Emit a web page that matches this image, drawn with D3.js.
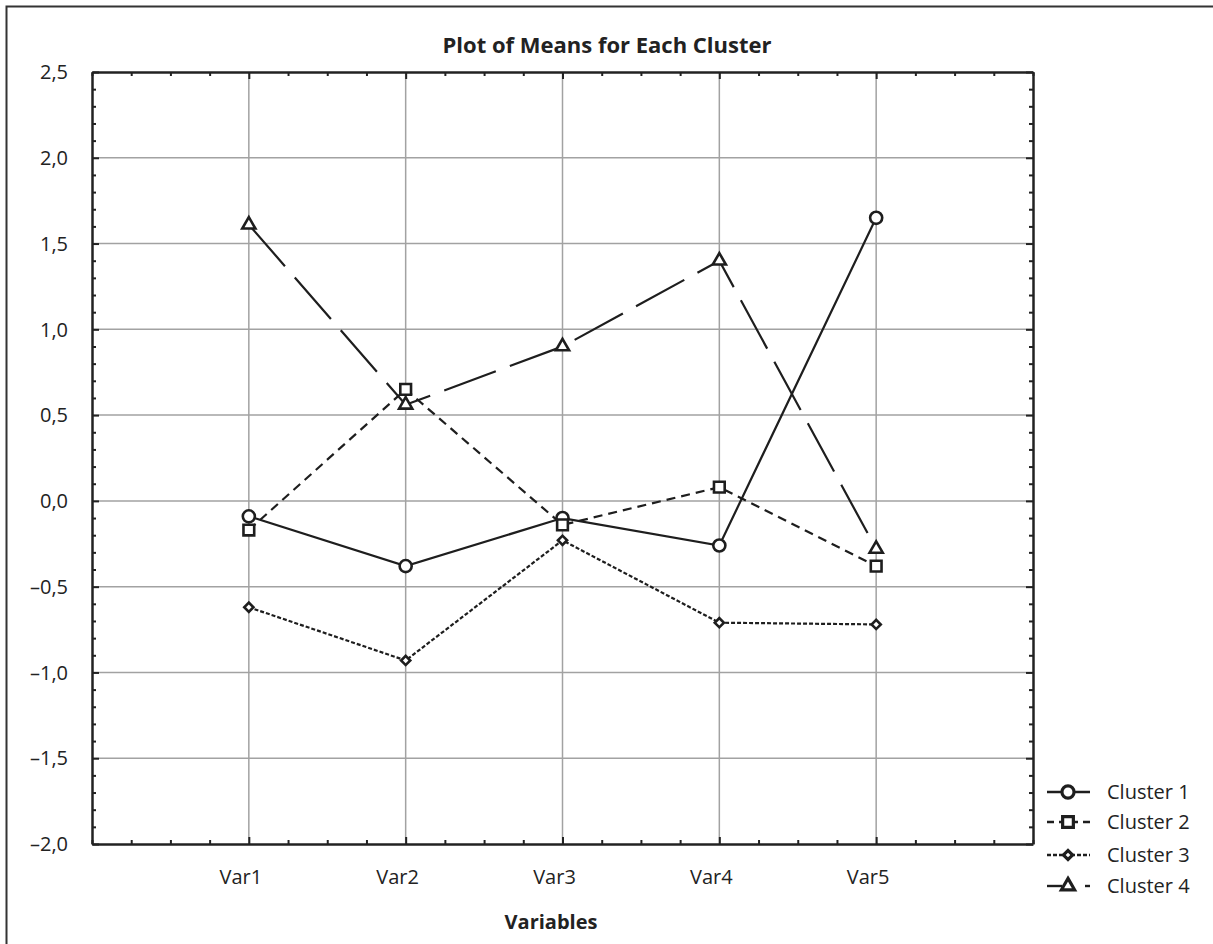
<!DOCTYPE html>
<html><head><meta charset="utf-8">
<script src="https://cdn.jsdelivr.net/npm/d3@7/dist/d3.min.js"></script>
<style>body{margin:0;background:#fff}svg{display:block}text{font-family:"Open Sans",sans-serif;fill:#222}</style>
</head><body><svg id="c" width="1213" height="944"></svg>
<script>
const categories = ["Var1","Var2","Var3","Var4","Var5"];
const cluster1 = [-0.09, -0.38, -0.10, -0.26, 1.65];
const cluster2 = [-0.17, 0.65, -0.14, 0.08, -0.38];
const cluster3 = [-0.62, -0.93, -0.23, -0.71, -0.72];
const cluster4 = [1.61, 0.56, 0.90, 1.40, -0.28];
const seriesNames = ["Cluster 1","Cluster 2","Cluster 3","Cluster 4"];
const yTickValues = [-2.0,-1.5,-1.0,-0.5,0.0,0.5,1.0,1.5,2.0,2.5];
const yTickLabels = ["\u20132,0","\u20131,5","\u20131,0","\u20130,5","0,0","0,5","1,0","1,5","2,0","2,5"];
const titleText = "Plot of Means for Each Cluster";
const xTitle = "Variables";

const series = [
  {name: seriesNames[0], values: cluster1, symbol: d3.symbolCircle, size: 115, rot: 0, dash: null},
  {name: seriesNames[1], values: cluster2, symbol: d3.symbolSquare, size: 115, rot: 0, dash: "9,6"},
  {name: seriesNames[2], values: cluster3, symbol: d3.symbolSquare, size: 42, rot: 45, dash: "4,2"},
  {name: seriesNames[3], values: cluster4, symbol: d3.symbolTriangle, size: 75, rot: 0, dash: "55,15"}
];

const svg = d3.select("#c");
const L = 92, R = 1033, T = 72, B = 844;
const x = d3.scaleLinear().domain([0, categories.length + 1]).range([L, R]);
const y = d3.scaleLinear().domain([-2.0, 2.5]).range([B, T]);

svg.append("path").attr("d", `M6.5,944 L6.5,6.5 L1213,6.5`).attr("fill","none").attr("stroke","#333").attr("stroke-width",2);

const g = svg.append("g");
g.selectAll(".hg").data(yTickValues.slice(1,-1)).join("line")
  .attr("x1", L).attr("x2", R).attr("y1", d=>y(d)).attr("y2", d=>y(d))
  .attr("stroke","#a2a2a2").attr("stroke-width",1.5);
g.selectAll(".vg").data(categories).join("line")
  .attr("x1", (d,i)=>x(i+1)).attr("x2", (d,i)=>x(i+1)).attr("y1", T).attr("y2", B)
  .attr("stroke","#a2a2a2").attr("stroke-width",1.5);

const xMinor = d3.range(0, categories.length + 1 + 0.001, 0.25);
const yMinor = d3.range(-2.0, 2.5001, 0.1);
const isMajorX = v => Math.abs(v - Math.round(v)) < 1e-6 && v > 0.5 && v < categories.length + 0.5;
const isMajorY = v => Math.abs(v*2 - Math.round(v*2)) < 1e-6;

const axB = d3.axisBottom(x).tickValues(xMinor).tickSizeInner(-4).tickSizeOuter(0).tickFormat("");
const axT = d3.axisTop(x).tickValues(xMinor).tickSizeInner(-4).tickSizeOuter(0).tickFormat("");
const axL = d3.axisLeft(y).tickValues(yMinor).tickSizeInner(-4).tickSizeOuter(0).tickFormat("");
const axRt = d3.axisRight(y).tickValues(yMinor).tickSizeInner(-4).tickSizeOuter(0).tickFormat("");
function styleAx(sel, majorFn){
  sel.select(".domain").attr("stroke","#222").attr("stroke-width",2.5);
  sel.selectAll(".tick line").attr("stroke","#222").attr("stroke-width",2)
    .each(function(d){ if(majorFn(d)){ const l=d3.select(this); ["x2","y2"].forEach(a=>{const v=+l.attr(a); if(v) l.attr(a, v*1.75);}); }});
}
styleAx(svg.append("g").attr("transform",`translate(0,${B})`).call(axB), isMajorX);
styleAx(svg.append("g").attr("transform",`translate(0,${T})`).call(axT), isMajorX);
styleAx(svg.append("g").attr("transform",`translate(${L},0)`).call(axL), isMajorY);
styleAx(svg.append("g").attr("transform",`translate(${R},0)`).call(axRt), isMajorY);

svg.append("g").selectAll("text").data(yTickValues).join("text")
  .attr("x", 68).attr("y", d=>y(d)).attr("dy","0.36em").attr("text-anchor","end")
  .attr("font-size",20).text((d,i)=>yTickLabels[i]);
svg.append("g").selectAll("text").data(categories).join("text")
  .attr("x", (d,i)=>x(i+1) - 8).attr("y", 884).attr("text-anchor","middle")
  .attr("font-size",20).text(d=>d);

svg.append("text").attr("x", 607).attr("y", 53).attr("text-anchor","middle")
  .attr("font-size",22).attr("font-weight","bold").text(titleText);
svg.append("text").attr("x", 551).attr("y", 929).attr("text-anchor","middle")
  .attr("font-size",20).attr("font-weight","bold").text(xTitle);

const line = d3.line().x((d,i)=>x(i+1)).y(d=>y(d));
series.forEach(s=>{
  svg.append("path").attr("d", line(s.values)).attr("fill","none")
    .attr("stroke","#1e1e1e").attr("stroke-width",2.2)
    .attr("stroke-dasharray", s.dash);
});
series.forEach(s=>{
  svg.append("g").selectAll("path").data(s.values).join("path")
    .attr("transform",(d,i)=>`translate(${x(i+1)},${y(d)}) rotate(${s.rot})`)
    .attr("d", d3.symbol().type(s.symbol).size(s.size)())
    .attr("fill","#fff").attr("stroke","#1e1e1e").attr("stroke-width",2.6);
});

const legY = [792, 822, 855, 886];
const lg = svg.append("g");
series.forEach((s,i)=>{
  const yy = legY[i];
  if(i===3){
    lg.append("line").attr("x1",1047).attr("x2",1062).attr("y1",yy).attr("y2",yy).attr("stroke","#1e1e1e").attr("stroke-width",2.4);
    lg.append("line").attr("x1",1085).attr("x2",1090).attr("y1",yy).attr("y2",yy).attr("stroke","#1e1e1e").attr("stroke-width",2.4);
  } else {
    lg.append("line").attr("x1",1047).attr("x2",1090).attr("y1",yy).attr("y2",yy)
      .attr("stroke","#1e1e1e").attr("stroke-width",2.4).attr("stroke-dasharray", i===1?"7,5":(i===2?"4,2":null));
  }
  lg.append("path").attr("transform",`translate(1068,${yy}) rotate(${s.rot})`)
    .attr("d", d3.symbol().type(s.symbol).size(s.size)())
    .attr("fill","#fff").attr("stroke","#1e1e1e").attr("stroke-width",3.2);
  lg.append("text").attr("x",1107).attr("y",yy).attr("dy","0.36em").attr("font-size",20).text(s.name);
});
</script></body></html>
